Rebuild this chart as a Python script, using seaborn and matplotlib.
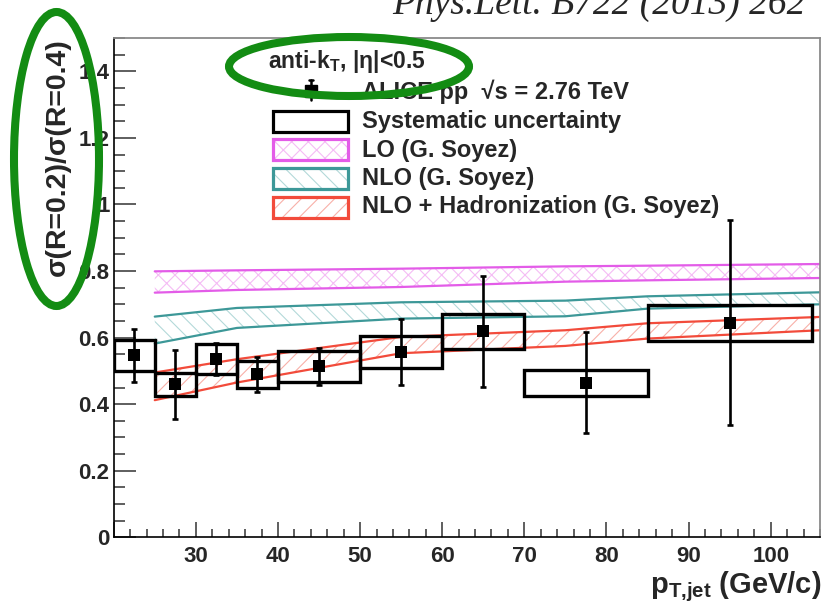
import numpy as np
import pandas as pd
import matplotlib
matplotlib.use("Agg")
import matplotlib.pyplot as plt
import seaborn as sns
from matplotlib.patches import Rectangle, Ellipse
from matplotlib.ticker import MultipleLocator, FuncFormatter

# ---------------- data ----------------
bin_lo = [20, 25, 30, 35, 40, 50, 60, 70, 85]
bin_hi = [25, 30, 35, 40, 50, 60, 70, 85, 105]
pt = [22.5, 27.5, 32.5, 37.5, 45, 55, 65, 77.5, 95]
ratio = [0.547, 0.460, 0.535, 0.490, 0.514, 0.557, 0.619, 0.464, 0.644]
stat = [0.080, 0.104, 0.048, 0.052, 0.055, 0.100, 0.166, 0.152, 0.308]
sys_err = [0.047, 0.035, 0.045, 0.040, 0.047, 0.049, 0.053, 0.039, 0.055]

th_x = [25, 35, 55, 75, 85, 106]
lo_hi = [0.799, 0.802, 0.807, 0.814, 0.816, 0.821]
lo_lo = [0.735, 0.743, 0.752, 0.768, 0.772, 0.779]
nlo_hi = [0.663, 0.689, 0.706, 0.711, 0.724, 0.736]
nlo_lo = [0.582, 0.629, 0.657, 0.664, 0.687, 0.700]
had_hi = [0.495, 0.535, 0.602, 0.622, 0.643, 0.662]
had_lo = [0.412, 0.465, 0.553, 0.575, 0.597, 0.622]

legend_labels = ["ALICE pp  \u221as = 2.76 TeV", "Systematic uncertainty",
                 "LO (G. Soyez)", "NLO (G. Soyez)", "NLO + Hadronization (G. Soyez)"]

# ---------------- style ----------------
sns.set_style("ticks")
plt.rcParams.update({
    'font.family': ['Liberation Sans', 'DejaVu Sans'],
    'font.weight': 'bold',
    'mathtext.default': 'regular',
    'hatch.linewidth': 0.8,
})

W, H = 823, 607
fig = plt.figure(figsize=(W / 100, H / 100), dpi=100)
fx = lambda x: x / W
fy = lambda y: 1 - y / H

ax = fig.add_axes([fx(113.7), fy(537.3), (820 - 113.7) / W, (537.3 - 38) / H])

LO_C, LO_H = '#e35ce8', '#f5bcf5'
NLO_C, NLO_H = '#3d9898', '#b3d9d9'
HAD_C, HAD_H = '#f24b3b', '#f8b0a8'

bands = [(lo_lo, lo_hi, LO_C, LO_H, 'xx'),
         (nlo_lo, nlo_hi, NLO_C, NLO_H, '\\\\'),
         (had_lo, had_hi, HAD_C, HAD_H, '//')]
n = len(th_x)
for lo, hi, lc, hc, h in bands:
    ax.fill_between(th_x, lo, hi, facecolor='none', edgecolor=hc, hatch=h,
                    linewidth=0, zorder=1)
    df = pd.DataFrame({'x': th_x * 2, 'y': lo + hi, 'edge': ['lo'] * n + ['hi'] * n})
    sns.lineplot(data=df, x='x', y='y', units='edge', estimator=None, color=lc,
                 lw=1.6, ax=ax, zorder=2, legend=False)

# systematic boxes
for l, r, v, s in zip(bin_lo, bin_hi, ratio, sys_err):
    ax.add_patch(Rectangle((l, v - s), r - l, 2 * s, fill=False, ec='black',
                           lw=2.4, zorder=3))

ax.errorbar(pt, ratio, yerr=stat, fmt='none', ecolor='black', elinewidth=1.9,
            capsize=2.5, capthick=1.9, zorder=4)
sns.scatterplot(x=pt, y=ratio, marker='s', s=78, color='black', linewidth=0,
                ax=ax, zorder=5)

ax.set_xlim(20, 106)
ax.set_ylim(0, 1.5)
ax.set_xlabel('')
ax.set_ylabel('')
ax.xaxis.set_major_locator(MultipleLocator(10))
ax.xaxis.set_minor_locator(MultipleLocator(2))
ax.yaxis.set_major_locator(MultipleLocator(0.2))
ax.yaxis.set_minor_locator(MultipleLocator(0.05))
ax.yaxis.set_major_formatter(FuncFormatter(lambda v, p: f"{v:g}"))
ax.xaxis.set_major_formatter(FuncFormatter(lambda v, p: "" if v < 25 else f"{v:g}"))

ax.tick_params(axis='y', which='major', direction='in', length=15.6, width=1.1,
               color='#333333', pad=3, labelsize=16)
ax.tick_params(axis='y', which='minor', direction='in', length=8.2, width=1.1,
               color='#333333')
ax.tick_params(axis='x', which='major', direction='in', length=10.8, width=1.1,
               color='#333333', pad=6, labelsize=16)
ax.tick_params(axis='x', which='minor', direction='in', length=6, width=1.1,
               color='#333333')
ax.tick_params(top=False, right=False, which='both')
for side in ['left', 'bottom']:
    ax.spines[side].set_color('black')
    ax.spines[side].set_linewidth(1.2)
for side in ['top', 'right']:
    ax.spines[side].set_visible(True)
    ax.spines[side].set_color('#8a8a8a')
    ax.spines[side].set_linewidth(1.3)

# axis titles
fig.text(fx(57.5), fy(38), "\u03c3(R=0.2)/\u03c3(R=0.4)", rotation=90,
         ha='center', va='top', fontsize=20.5, weight='bold')
fig.text(fx(821), fy(593), "p$_{T{,}jet}$ (GeV/c)", ha='right', va='baseline',
         fontsize=21, weight='bold')

# citation
fig.text(fx(392), fy(14), "Phys.Lett. B722 (2013) 262", family='Liberation Serif',
         style='italic', weight='normal', fontsize=27, ha='left', va='baseline')

# ---------------- legend (manual) ----------------
fig.text(fx(268), fy(68), "anti-k$_T$, |\u03b7|<0.5", fontsize=16.5, weight='bold',
         ha='left', va='baseline')
baselines = [99, 128, 157, 185, 213]
for lab, b in zip(legend_labels, baselines):
    fig.text(fx(362), fy(b), lab, fontsize=17, weight='bold', ha='left',
             va='baseline')
# ALICE marker
fig.add_artist(plt.Line2D([fx(311), fx(311)], [fy(80), fy(100)], color='black',
                          lw=1.8, transform=fig.transFigure))
fig.add_artist(plt.Line2D([fx(309), fx(313)], [fy(80), fy(80)], color='black',
                          lw=1.8, transform=fig.transFigure))
fig.add_artist(plt.Line2D([fx(311)], [fy(91)], marker='s', markersize=8.5,
                          color='black', lw=0, transform=fig.transFigure))
box_centers = [121, 149, 178, 207]
box_styles = [('black', None, None), (LO_C, LO_H, 'xx'), (NLO_C, NLO_H, '\\\\'),
              (HAD_C, HAD_H, '//')]
for c, (lc, hc, h) in zip(box_centers, box_styles):
    x0, y0 = fx(273), fy(c + 10.5)
    w, hh = (348 - 273) / W, 21 / H
    if h is not None:
        fig.add_artist(Rectangle((x0, y0), w, hh, facecolor='none', edgecolor=hc,
                                 hatch=h, lw=0, transform=fig.transFigure))
    fig.add_artist(Rectangle((x0, y0), w, hh, fill=False, edgecolor=lc, lw=2.3,
                             transform=fig.transFigure))

# green annotation ellipses
green = '#138c13'
fig.add_artist(Ellipse((fx(56.5), fy(159)), 85 / W, 294 / H, fill=False,
                       edgecolor=green, lw=5.8, transform=fig.transFigure, zorder=10))
fig.add_artist(Ellipse((fx(349), fy(66.5)), 240 / W, 59 / H, fill=False,
                       edgecolor=green, lw=5.8, transform=fig.transFigure, zorder=10))

fig.savefig("out.png", dpi=100)
